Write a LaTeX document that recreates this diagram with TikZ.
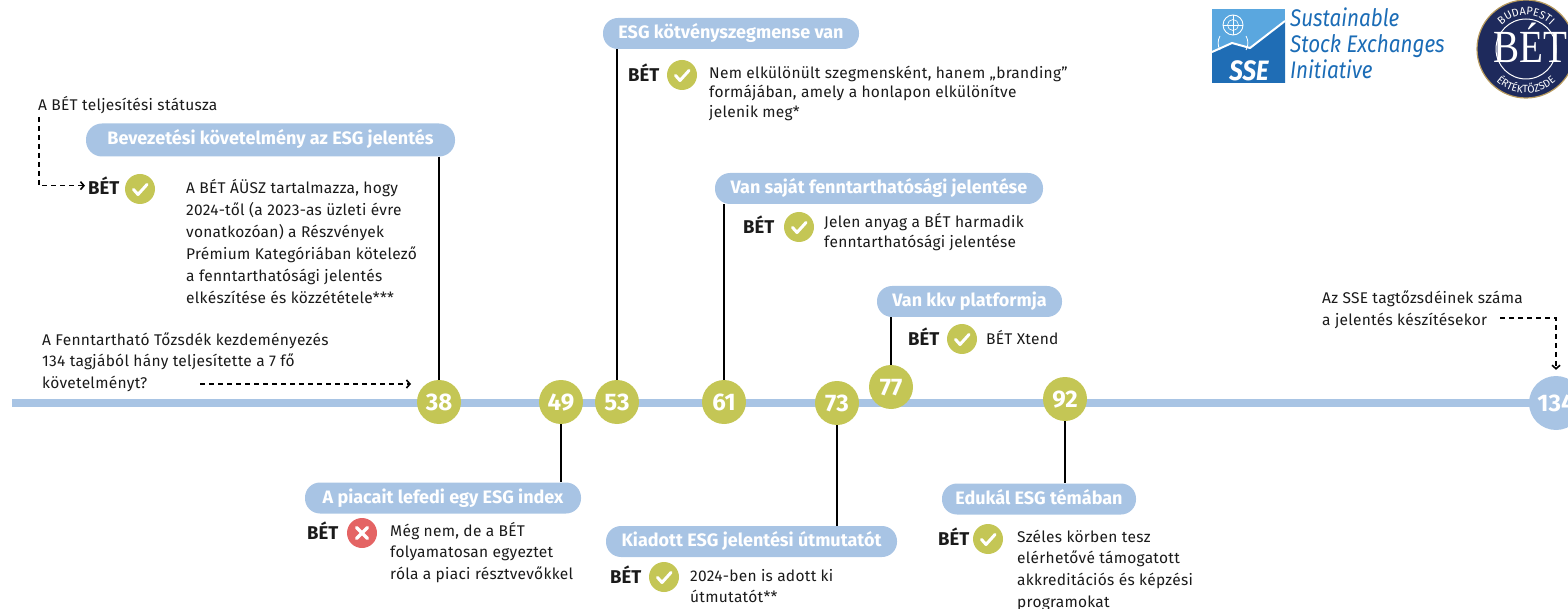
\documentclass[tikz,border=0pt]{standalone}
\usepackage{fontspec}
\setmainfont{Fira Sans}
\newfontfamily\bodyfont[LetterSpace=1.8]{Fira Sans}
\newfontfamily\ssefont[FakeStretch=0.86]{Fira Sans}
\newfontfamily\logoserif[FakeStretch=0.85]{Liberation Serif}
\usetikzlibrary{decorations.text,arrows.meta}
\definecolor{pillblue}{HTML}{A8C4E4}
\definecolor{dotgreen}{HTML}{C4C655}
\definecolor{crossred}{HTML}{E46464}
\definecolor{txt}{HTML}{1A1A1A}
\definecolor{ssedark}{HTML}{1F6DB5}
\definecolor{sselight}{HTML}{5AA7DF}
\definecolor{ssetxt}{HTML}{1B6CB6}
\definecolor{betnavy}{HTML}{1E2A5C}
\definecolor{betgold}{HTML}{B89B5E}
\begin{document}
\begin{tikzpicture}[x=1pt,y=-1pt,
  pill/.style={fill=pillblue, rounded corners=15pt, minimum height=31pt, inner sep=0pt,
    text=white, text height=13pt, text depth=3pt, font=\fontsize{18}{18}\selectfont\bfseries},
  num/.style={circle, fill=dotgreen, minimum size=44pt, inner sep=0pt, text=white,
    text height=17pt, text depth=0pt, font=\fontsize{24}{24}\selectfont\bfseries},
  betlabel/.style={anchor=base west, inner sep=0pt, text=txt, font=\fontsize{18.5}{18.5}\selectfont\bfseries},
  chk/.style={circle, fill=dotgreen, minimum size=30pt, inner sep=0pt,
    path picture={\draw[white, line width=3pt, line cap=round, line join=round]
      ([shift={(-6.5,0.5)}]path picture bounding box.center) -- ++(4.5,5) -- ++(9,-10);}},
  crs/.style={circle, fill=crossred, minimum size=30pt, inner sep=0pt,
    path picture={\draw[white, line width=3.2pt, line cap=round]
      ([shift={(-5.5,-5.5)}]path picture bounding box.center) -- ++(11,11)
      ([shift={(-5.5,5.5)}]path picture bounding box.center) -- ++(11,-11);}},
  body/.style={anchor=north west, inner sep=0pt, align=left, text=txt},
  conn/.style={line width=2pt, black},
  dasharrow/.style={line width=1.6pt, dash pattern=on 5pt off 4pt,
    -{Straight Barb[length=3.5pt,width=8pt,line width=1.6pt]}},
  ssetext/.style={anchor=base west, inner sep=0pt, text=ssetxt, font=\ssefont\itshape\fontsize{24}{24}\selectfont}
]
\useasboundingbox (0,0) rectangle (1568,609);

% timeline
\coordinate (tlA) at (12,402.5);
\coordinate (tlB) at (1568,402.5);
\draw[line width=8pt, pillblue] (tlA) -- (tlB);

% number circles
\node[num] (n38) at (439,402) {38};
\node[num] (n49) at (561,402) {49};
\node[num] (n53) at (617,402) {53};
\node[num] (n61) at (724,402) {61};
\node[num] (n73) at (837,403) {73};
\node[num] (n77) at (891,387) {77};
\node[num] (n92) at (1065,399) {92};
\node[num, fill=pillblue, minimum size=54pt] (n134) at (1556,403) {134};

% pills
\node[pill, minimum width=369pt, minimum height=33pt, rounded corners=16pt] (p1) at (270.5,140) {Bevezetési követelmény az ESG jelentés};
\node[pill, minimum width=256pt] (p2) at (731,33.5) {ESG kötvényszegmense van};
\node[pill, minimum width=328pt] (p3) at (879,188.5) {Van saját fenntarthatósági jelentése};
\node[pill, minimum width=185pt] (p4) at (969.5,301.5) {Van kkv platformja};
\node[pill, minimum width=276pt] (p5) at (443,498) {A piacait lefedi egy ESG index};
\node[pill, minimum width=291pt] (p6) at (751.5,541.5) {Kiadott ESG jelentési útmutatót};
\node[pill, minimum width=194pt] (p7) at (1039,499) {Edukál ESG témában};

% connectors
\draw[conn] (p1.south -| n38) -- (n38.north);
\draw[conn] (p2.south -| n53) -- (n53.north);
\draw[conn] (p3.south -| n61) -- (n61.north);
\draw[conn] (p4.south -| n77) -- (n77.north);
\draw[conn] (n49.south) -- (p5.north -| n49);
\draw[conn] (n73.south) -- (p6.north -| n73);
\draw[conn] (n92.south) -- (p7.north -| n92);

% BET labels and icons
\node[betlabel] (b1) at (88,194.5) {BÉT};
\node[chk] (c1) at (140,189) {};
\node[betlabel] (b2) at (628,81.5) {BÉT};
\node[chk] (c2) at (682,75) {};
\node[betlabel] (b3) at (743,233.5) {BÉT};
\node[chk] (c3) at (799,227) {};
\node[betlabel] (b4) at (908,345.5) {BÉT};
\node[chk] (c4) at (962,339) {};
\node[betlabel] (b5) at (307,539.5) {BÉT};
\node[crs] (c5) at (362,533) {};
\node[betlabel] (b6) at (610,583.5) {BÉT};
\node[chk] (c6) at (664,577) {};
\node[betlabel] (b7) at (938,545.5) {BÉT};
\node[chk] (c7) at (988,539) {};

% body texts
\node[body, font=\bodyfont\fontsize{15.5}{20}\selectfont] (t0) at (38,96) {\strut A BÉT teljesítési státusza};
\node[body, font=\bodyfont\fontsize{15.5}{22}\selectfont] (t1) at (186,177.6) {\strut A BÉT ÁÜSZ tartalmazza, hogy\\2024-től (a 2023-as üzleti évre\\vonatkozóan) a Részvények\\Prémium Kategóriában kötelező\\a fenntarthatósági jelentés\\elkészítése és közzététele***};
\node[body, font=\bodyfont\fontsize{15.5}{21.5}\selectfont] (tq) at (42,330) {\strut A Fenntartható Tőzsdék kezdeményezés\\134 tagjából hány teljesítette a 7 fő\\követelményt?};
\node[body, font=\bodyfont\fontsize{15.5}{19.5}\selectfont] (t2) at (709,64.3) {\strut Nem elkülönült szegmensként, hanem „branding”\\formájában, amely a honlapon elkülönítve\\jelenik meg*};
\node[body, font=\bodyfont\fontsize{15.5}{19.5}\selectfont] (t3) at (824,213.3) {\strut Jelen anyag a BÉT harmadik\\fenntarthatósági jelentése};
\node[body, font=\bodyfont\fontsize{15.5}{20}\selectfont] (t4) at (986,330) {\strut BÉT Xtend};
\node[body, font=\bodyfont\fontsize{15.5}{21.5}\selectfont] (t5) at (390,521) {\strut Még nem, de a BÉT\\folyamatosan egyeztet\\róla a piaci résztvevőkkel};
\node[body, font=\bodyfont\fontsize{15.5}{21}\selectfont] (t6) at (690,566.3) {\strut 2024-ben is adott ki\\útmutatót**};
\node[body, font=\bodyfont\fontsize{15.5}{21.7}\selectfont] (t7) at (1017,526.8) {\strut Széles körben tesz\\elérhetővé támogatott\\akkreditációs és képzési\\programokat};
\node[body, font=\bodyfont\fontsize{15.5}{22}\selectfont] (ts) at (1322,287.6) {\strut Az SSE tagtőzsdéinek száma\\a jelentés készítésekor};

% dashed arrows
\coordinate (d1s) at (39,117);
\draw[dasharrow, shorten >=3pt] (d1s) |- (b1.west);
\coordinate (d2s) at (200,384);
\coordinate (d2e) at (411,384);
\draw[dasharrow] (d2s) -- (d2e);
\coordinate (d3s) at (1500,318);
\draw[dasharrow, shorten >=6pt] (d3s) -| (n134.north);

% SSE logo
\fill[sselight] (1212,9) rectangle (1285,83);
\fill[ssedark] (1212,52) -- (1232,43) -- (1250,48) -- (1285,21) -- (1285,83) -- (1212,83) -- cycle;
\draw[white, line width=2pt, line join=round] (1212,52) -- (1232,43) -- (1250,48) -- (1285,21);
\draw[white, line width=0.9pt] (1233,25) circle[radius=10];
\draw[white, line width=0.6pt] (1233,15) -- (1233,35) (1223,25) -- (1243,25);
\draw[white, line width=0.6pt] (1233,25) circle[radius=5.5];
\draw[white, line width=0.8pt] (1220,36) arc[start angle=210, end angle=150, radius=14];
\draw[white, line width=0.8pt] (1246,36) arc[start angle=-30, end angle=30, radius=14];
\node[anchor=base, inner sep=0pt, text=white, font=\ssefont\itshape\bfseries\fontsize{28}{28}\selectfont] (sseword) at (1249,81) {SSE};
\node[ssetext] (s1) at (1290,27) {Sustainable};
\node[ssetext] (s2) at (1290,53) {Stock Exchanges};
\node[ssetext] (s3) at (1290,79) {Initiative};

% BET logo
\begin{scope}[shift={(1526,49)}, y=1pt]
\fill[betnavy] (0,0) circle[radius=49];
\draw[betgold, line width=1.2pt] (0,0) circle[radius=49];
\draw[white, line width=1pt] (0,0) circle[radius=30];
\node[inner sep=0pt, anchor=base, text=white, font=\logoserif\fontsize{46}{46}\selectfont] (betword) at (4,-14) {BÉT};
\path[decorate, decoration={text along path, text align=center,
  text={|\color{white}\fontsize{11}{11}\selectfont|BUDAPESTI}}]
  (160:34) arc[start angle=160, end angle=20, radius=34];
\path[decorate, decoration={text along path, text align=center,
  text={|\color{white}\fontsize{10.5}{10.5}\selectfont|ÉRTÉKTŐZSDE}}]
  (195:44) arc[start angle=195, end angle=345, radius=44];
\end{scope}
\end{tikzpicture}
\end{document}
